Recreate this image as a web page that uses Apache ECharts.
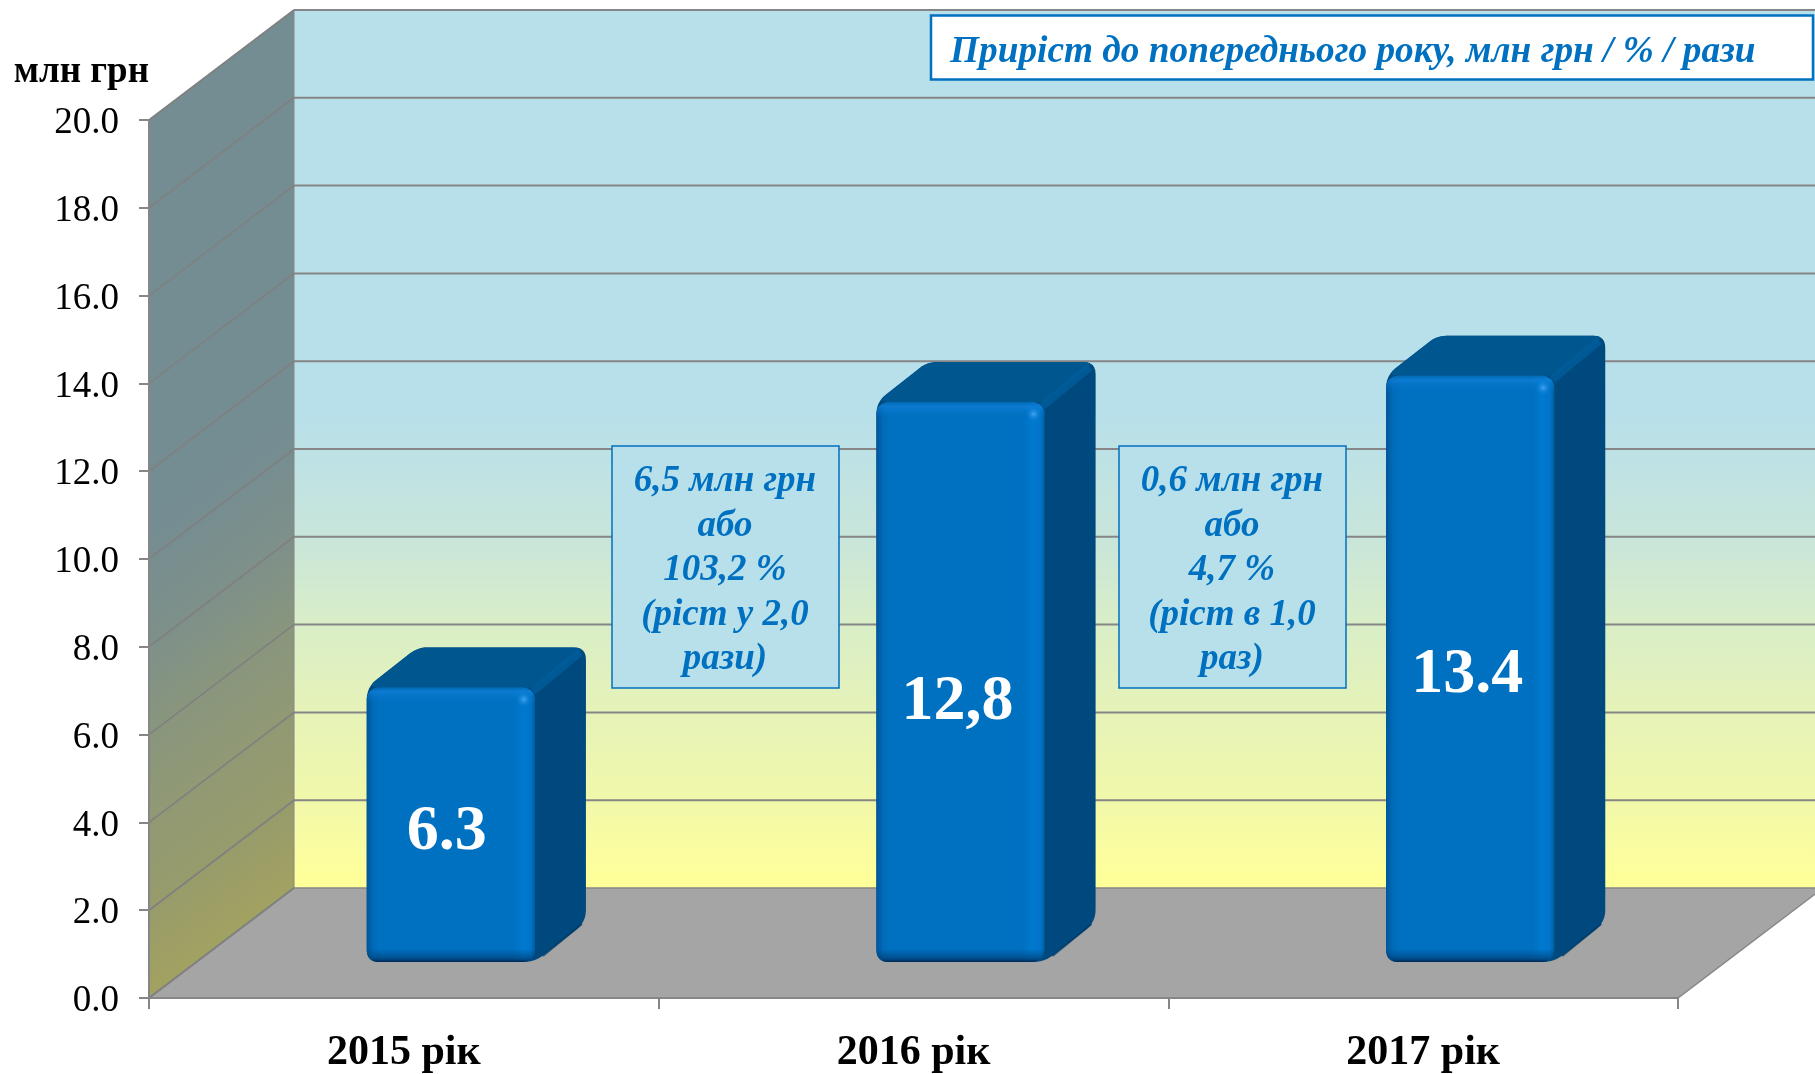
<!DOCTYPE html>
<html>
<head>
<meta charset="utf-8">
<style>html,body{margin:0;padding:0;background:#fff}#c{width:1815px;height:1074px}</style>
<script src="https://cdn.jsdelivr.net/npm/echarts@6/dist/echarts.min.js"></script>
</head>
<body>
<div id="c"></div>
<script>
const categories = ['2015 рік', '2016 рік', '2017 рік'];
const values = [6.3, 12.8, 13.4];
const barLabels = ['6.3', '12,8', '13.4'];
const yTicks = [0, 2, 4, 6, 8, 10, 12, 14, 16, 18, 20];
const unitLabel = 'млн грн';
const headerText = 'Приріст до попереднього року, млн грн / % / рази';
const note2016 = ['6,5 млн грн', 'або', '103,2 %', '(ріст у 2,0', 'рази)'];
const note2017 = ['0,6 млн грн', 'або', '4,7 %', '(ріст в 1,0', 'раз)'];

const SERIF = '"Liberation Serif","Times New Roman",serif';
const WALL_DX = 145, WALL_DY = 110, INSET_X = 47, INSET_Y = 36, BAR_DX = 51, BAR_DY = 40, TOP_BEVEL = 2;
const LABEL_NUDGE = [[-4, 8], [-3, 20], [-3, 7]];
const LINE = '#868686';
const wallStops = [[0, '#B8E0EA'], [0.46, '#B8E0EA'], [0.6, '#C8E5DA'], [0.7, '#D9EEC7'], [0.8, '#E6F3B8'], [0.9, '#F1F8AA'], [0.99, '#FFFF9A'], [1, '#FFFF9A']];
const sideStops = [[0, '#748D93'], [0.46, '#748D93'], [0.6, '#7E9089'], [0.7, '#89967D'], [0.8, '#919974'], [0.9, '#989C6B'], [0.99, '#A1A161'], [1, '#A1A161']];

function roundPoly(pts, radii) {
  const out = [], n = pts.length;
  for (let i = 0; i < n; i++) {
    const r = radii[i];
    const p = pts[i], a = pts[(i + n - 1) % n], b = pts[(i + 1) % n];
    if (!r) { out.push(p); continue; }
    const la = Math.hypot(a[0] - p[0], a[1] - p[1]), lb = Math.hypot(b[0] - p[0], b[1] - p[1]);
    const s = [p[0] + (a[0] - p[0]) * r / la, p[1] + (a[1] - p[1]) * r / la];
    const e = [p[0] + (b[0] - p[0]) * r / lb, p[1] + (b[1] - p[1]) * r / lb];
    for (let k = 0; k <= 6; k++) {
      const t = k / 6, u = 1 - t;
      out.push([u * u * s[0] + 2 * u * t * p[0] + t * t * e[0], u * u * s[1] + 2 * u * t * p[1] + t * t * e[1]]);
    }
  }
  return out;
}

function renderWalls(params, api) {
  const cs = params.coordSys;
  const L = cs.x, R = cs.x + cs.width;
  const y0 = api.coord([0, 0])[1], yMax = api.coord([0, 20])[1];
  const far = R + WALL_DX;
  const sideGrad = new echarts.graphic.LinearGradient(L, yMax, L + 422, yMax + 561, sideStops.map(s => ({ offset: s[0], color: s[1] })), true);
  const backGrad = new echarts.graphic.LinearGradient(0, yMax - WALL_DY, 0, y0 - WALL_DY, wallStops.map(s => ({ offset: s[0], color: s[1] })), true);
  return {
    type: 'group', silent: true, children: [
      { type: 'polygon', shape: { points: [[L + WALL_DX, yMax - WALL_DY], [far, yMax - WALL_DY], [far, y0 - WALL_DY], [L + WALL_DX, y0 - WALL_DY]] }, style: { fill: backGrad } },
      { type: 'polygon', shape: { points: [[L, yMax], [L + WALL_DX, yMax - WALL_DY], [L + WALL_DX, y0 - WALL_DY], [L, y0]] }, style: { fill: sideGrad, stroke: LINE, lineWidth: 1 } },
      { type: 'polygon', shape: { points: [[L, y0], [R, y0], [far, y0 - WALL_DY], [L + WALL_DX, y0 - WALL_DY]] }, style: { fill: '#A5A5A5', stroke: LINE, lineWidth: 1.5 } }
    ]
  };
}

function renderGridline(params, api) {
  const cs = params.coordSys;
  const L = cs.x, R = cs.x + cs.width;
  const y = api.coord([0, api.value(1)])[1];
  const children = [
    { type: 'line', shape: { x1: L, y1: y, x2: L + WALL_DX, y2: y - WALL_DY }, style: { stroke: '#808080', lineWidth: 1.8 } }
  ];
  if (api.value(1) > 0) {
    children.push({ type: 'line', shape: { x1: L + WALL_DX, y1: y - WALL_DY, x2: R + WALL_DX, y2: y - WALL_DY }, style: { stroke: LINE, lineWidth: 2 } });
  }
  return { type: 'group', silent: true, children };
}

function renderBar(params, api) {
  const i = api.value(0), v = api.value(1);
  const band = api.size([1, 0])[0];
  const w = band * 0.33;
  const cx = api.coord([i, 0])[0] + INSET_X;
  const B = api.coord([i, 0])[1] - INSET_Y;
  const T = api.coord([i, v])[1] - INSET_Y + TOP_BEVEL;
  const X = cx - w / 2, Rt = cx + w / 2, h = B - T;
  const bandEdge = 12 / h;
  const G = echarts.graphic;
  const hStops = [[0, '#00569A'], [0.04, '#006BB9'], [0.08, '#0070C0'], [0.87, '#0070C0'], [0.925, '#0079CE'], [0.975, '#0075C9'], [1, '#005F9E']];
  return {
    type: 'group', silent: true, children: [
      { type: 'polygon', shape: { points: roundPoly([[X, T], [X + BAR_DX, T - BAR_DY], [Rt + BAR_DX, T - BAR_DY], [Rt + BAR_DX, B - BAR_DY], [Rt, B], [X, B]], [12, 10, 12, 12, 12, 12]) }, style: { fill: '#00497E' } },
      { type: 'polygon', shape: { points: roundPoly([[X, T], [X + BAR_DX, T - BAR_DY], [Rt + BAR_DX, T - BAR_DY], [Rt, T]], [12, 10, 12, 0]) }, style: { fill: '#00578F' } },
      { type: 'line', shape: { x1: Rt - 2, y1: T + 4, x2: Rt + BAR_DX - 6, y2: T - BAR_DY + 5 }, style: { stroke: '#005E9C', lineWidth: 8, opacity: 0.75 } },
      { type: 'line', shape: { x1: Rt + 8, y1: B - 6, x2: Rt + BAR_DX - 4, y2: B - BAR_DY + 2 }, style: { stroke: '#003863', lineWidth: 2, opacity: 0.7 } },
      { type: 'rect', shape: { x: X, y: T, width: w, height: h, r: 12 }, style: { fill: new G.LinearGradient(0, 0, 1, 0, hStops.map(s => ({ offset: s[0], color: s[1] }))) } },
      { type: 'rect', shape: { x: X, y: T, width: w, height: h, r: 12 }, style: { fill: new G.LinearGradient(0, 0, 0, 1, [
        { offset: 0, color: 'rgba(0,100,170,0.6)' }, { offset: bandEdge * 0.35, color: 'rgba(20,130,220,0.6)' }, { offset: bandEdge * 1.4, color: 'rgba(0,112,192,0)' },
        { offset: 1 - bandEdge * 1.1, color: 'rgba(0,60,110,0)' }, { offset: 1 - bandEdge * 0.3, color: 'rgba(0,50,100,0.55)' }, { offset: 1, color: 'rgba(0,30,70,0.9)' }
      ]) } },
      { type: 'circle', shape: { cx: Rt - 11, cy: T + 12, r: 8 }, style: { fill: new G.RadialGradient(0.5, 0.5, 0.5, [{ offset: 0, color: 'rgba(70,165,245,0.95)' }, { offset: 1, color: 'rgba(0,122,207,0)' }]) } },
      { type: 'text', style: { text: barLabels[i], x: cx + LABEL_NUDGE[i][0], y: (T + B) / 2 + LABEL_NUDGE[i][1], fill: '#fff', font: 'bold 64px ' + SERIF, align: 'center', verticalAlign: 'middle' } }
    ]
  };
}

function noteBox(x, lines) {
  return [
    { type: 'rect', z: 50, shape: { x: x, y: 446, width: 227, height: 242 }, style: { fill: '#B8E0EA', stroke: '#0070C0', lineWidth: 1.5 } },
    { type: 'text', z: 51, style: { text: lines.join('\n'), x: x + 113, y: 570.5, fill: '#0070C0', font: 'italic bold 37px ' + SERIF, lineHeight: 44.5, align: 'center', verticalAlign: 'middle' } }
  ];
}

const chart = echarts.init(document.getElementById('c'), null, { renderer: 'canvas', width: 1815, height: 1074 });
chart.setOption({
  animation: false,
  backgroundColor: '#fff',
  grid: { left: 149, right: 137, top: 120, bottom: 75, containLabel: false },
  xAxis: {
    type: 'category', data: categories, boundaryGap: true,
    axisLine: { show: true, lineStyle: { color: LINE, width: 2 } },
    axisTick: { show: true, length: 11, lineStyle: { color: LINE, width: 2 } },
    axisLabel: { color: '#000', fontFamily: SERIF, fontWeight: 'bold', fontSize: 42, margin: 34 },
    z: 5
  },
  yAxis: {
    type: 'value', min: 0, max: 20, interval: 2,
    name: unitLabel, nameLocation: 'end', nameGap: 29,
    nameTextStyle: { color: '#000', fontFamily: SERIF, fontWeight: 'bold', fontSize: 37, align: 'right', verticalAlign: 'bottom' },
    axisLine: { show: true, lineStyle: { color: LINE, width: 2 } },
    axisTick: { show: true, length: 10, lineStyle: { color: LINE, width: 2 } },
    axisLabel: {
      margin: 30,
      formatter: v => '{t|' + v.toFixed(1) + '}',
      rich: { t: { color: '#000', fontFamily: SERIF, fontSize: 37, padding: [7, 0, 0, 0] } }
    },
    splitLine: { show: false },
    z: 5
  },
  series: [
    { type: 'custom', name: 'walls', z: 1, silent: true, renderItem: renderWalls, data: [[0, 0]], encode: { x: 0, y: 1 } },
    { type: 'custom', name: 'gridlines', z: 2, silent: true, renderItem: renderGridline, data: yTicks.map(v => [0, v]), encode: { x: 0, y: 1 } },
    { type: 'custom', name: 'млн грн', z: 3, silent: true, renderItem: renderBar, data: values.map((v, i) => [i, v]), encode: { x: 0, y: 1 } }
  ],
  graphic: {
    elements: [
      { type: 'rect', z: 50, shape: { x: 931, y: 15.5, width: 882, height: 64 }, style: { fill: '#fff', stroke: '#0070C0', lineWidth: 2.5 } },
      { type: 'text', z: 51, style: { text: headerText, x: 950, y: 52.5, fill: '#0070C0', font: 'italic bold 37.3px ' + SERIF, align: 'left', verticalAlign: 'middle' } },
      ...noteBox(612, note2016),
      ...noteBox(1119, note2017)
    ]
  }
});
</script>
</body>
</html>
